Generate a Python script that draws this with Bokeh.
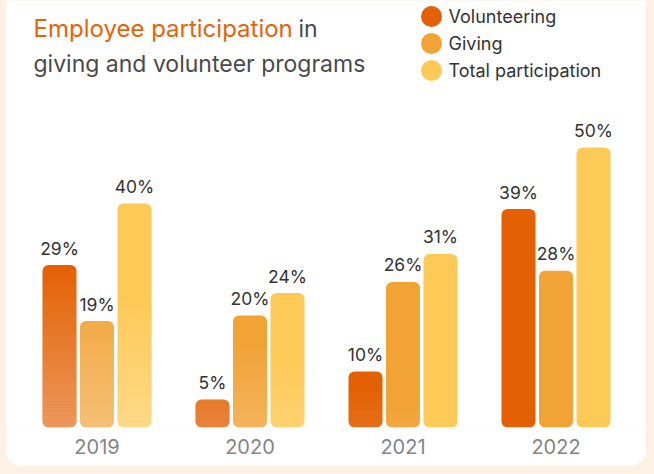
from bokeh.plotting import figure
from bokeh.models import (FactorRange, Range1d, ColumnDataSource, Label,
                          GlobalInlineStyleSheet, InlineStyleSheet)
from bokeh.transform import dodge
from bokeh.core.properties import value
from bokeh.embed import file_html
from bokeh.resources import INLINE

# ---------------- data ----------------
years = ["2019", "2020", "2021", "2022"]
series = ["Volunteering", "Giving", "Total participation"]
volunteering = [29, 5, 10, 39]
giving = [19, 20, 26, 28]
total = [40, 24, 31, 50]
series_keys = ["volunteering", "giving", "total"]
series_colors = ["#E46103", "#F2A336", "#FECA57"]

# ---------------- layout constants (pixels) ----------------
LEFT = 6               # page offset of the white card
W, H = 640, 466
FRAME_H = 427          # bars' baseline from the top of the figure
PX_PER_PCT = 5.6
GROUP_PX = 153
BAR_STEP_PX = 37.5
BAR_W_PX = 34
FONT = "Inter"

half_pad = (W / GROUP_PX - len(years)) / 2.0


def fx(page_px):
    """page pixel x -> synthetic categorical coordinate"""
    return -half_pad + (page_px - LEFT) / GROUP_PX


def fy(py):
    """page pixel y (from top) -> data value"""
    return (FRAME_H - py) / PX_PER_PCT


p = figure(width=W, height=H,
           x_range=FactorRange(factors=years,
                               range_padding=(W - len(years) * GROUP_PX) / (len(years) * GROUP_PX)),
           y_range=Range1d(0, FRAME_H / PX_PER_PCT),
           output_backend="svg", toolbar_location=None, y_axis_location=None,
           min_border=0, min_border_bottom=H - FRAME_H)
p.background_fill_color = "white"
p.border_fill_color = "white"
p.outline_line_color = None
p.xgrid.grid_line_color = None
p.ygrid.grid_line_color = None

p.xaxis.axis_line_color = None
p.xaxis.major_tick_line_color = None
p.xaxis.minor_tick_line_color = None
p.xaxis.major_tick_out = 0
p.xaxis.major_tick_in = 0
p.xaxis.major_label_standoff = 11
p.xaxis.major_label_text_font = FONT
p.xaxis.major_label_text_font_size = "20px"
p.xaxis.major_label_text_color = "#858585"

data = dict(years=years, volunteering=volunteering, giving=giving, total=total)
for k in series_keys:
    data[k + "_lbl"] = [f"{v}%" for v in data[k]]
src = ColumnDataSource(data)

bar_w = BAR_W_PX / GROUP_PX
STEP = 2 / PX_PER_PCT          # 2px slices for the fading overlay

for j, (key, col) in enumerate(zip(series_keys, series_colors)):
    off = (j - 1) * BAR_STEP_PX / GROUP_PX
    p.vbar(x=dodge("years", off, range=p.x_range), bottom=0, top=key,
           width=bar_w, source=src, fill_color=col, line_color=None,
           border_radius=6)

    # light diagonal fade towards the lower left (overlay of white)
    oy, ob, ot, oa = [], [], [], []
    for i, yr in enumerate(years):
        v = data[key][i]
        gx = i * GROUP_PX + j * BAR_STEP_PX
        b = 0.0
        while b < v - 1e-9:
            t = min(b + STEP, v)
            ym = (b + t) / 2
            a = 0.36 - 0.0022 * ym * PX_PER_PCT - 0.00088 * gx
            if a > 0.004:
                oy.append(yr); ob.append(b); ot.append(t); oa.append(a)
            b = t
    osrc = ColumnDataSource(dict(years=oy, bottom=ob, top=ot, alpha=oa))
    p.vbar(x=dodge("years", off, range=p.x_range), bottom="bottom", top="top",
           width=bar_w, source=osrc, fill_color="white", fill_alpha="alpha",
           line_color=None)

    p.text(x=dodge("years", off, range=p.x_range), y=key, text=key + "_lbl",
           source=src, text_align="center", text_baseline="alphabetic",
           y_offset=-17, text_font=value(FONT), text_font_size="17.5px",
           text_color="#333333")

# ---------------- title ----------------
p.add_layout(Label(x=fx(33), y=fy(28), text="Employee participation",
                   text_font=FONT, text_font_size="24px", text_color="#E5640A",
                   text_baseline="alphabetic"))
p.add_layout(Label(x=fx(298), y=fy(28), text="in",
                   text_font=FONT, text_font_size="23px", text_color="#4A4A4A",
                   text_baseline="alphabetic"))
p.add_layout(Label(x=fx(33), y=fy(63), text="giving and volunteer programs",
                   text_font=FONT, text_font_size="23px", text_color="#4A4A4A",
                   text_baseline="alphabetic"))

# ---------------- legend ----------------
leg_py = [16, 43, 70]
p.scatter(x=[fx(431)] * len(series), y=[fy(v) for v in leg_py], size=21,
          marker="circle", fill_color=series_colors, line_color=None)
for name, py in zip(series, leg_py):
    p.add_layout(Label(x=fx(448), y=fy(py), text=name, text_font=FONT,
                       text_font_size="18px", text_color="#333333",
                       text_baseline="middle"))

p.stylesheets = [
    GlobalInlineStyleSheet(css="html { background-color: #FCF1E4; } "
                               "body { padding-left: 6px !important; }"),
    InlineStyleSheet(css=":host { border-radius: 0 0 16px 16px; overflow: hidden; }"),
]

open("out.html", "w").write(file_html(p, INLINE))
